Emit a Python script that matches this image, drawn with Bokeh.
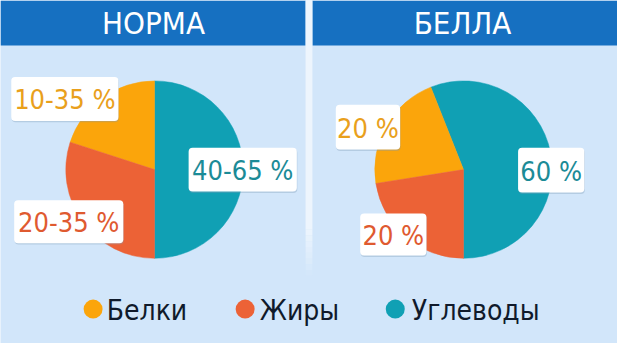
import numpy as np
from bokeh.plotting import figure
from bokeh.models import Range1d, BoxAnnotation, ColumnDataSource
from bokeh.core.properties import value
from bokeh.embed import file_html
from bokeh.resources import INLINE

# ---------------- data ----------------
panel_titles = ["НОРМА", "БЕЛЛА"]
categories = ["Белки", "Жиры", "Углеводы"]
norma_values = [20, 30, 50]          # slice shares
bella_values = [21.5, 22.5, 56]
norma_labels = ["10-35 %", "20-35 %", "40-65 %"]
bella_labels = ["20 %", "20 %", "60 %"]

# ---------------- style ----------------
BG = "#d2e6fa"
HEADER = "#1670c1"
SEP = "#edf5fd"
fill_colors = ["#fba50b", "#ec6236", "#10a0b4"]
text_colors = ["#e9a01c", "#df5a30", "#1b8b97"]
LEGEND_TEXT = "#101a2b"
FONT = value("DejaVu Sans Condensed")

H = 359
def Y(y):
    return H - y

p = figure(width=617, height=343, x_range=Range1d(0, 633), y_range=Range1d(0, 359),
           output_backend="svg", toolbar_location=None, min_border=0)
p.axis.visible = False
p.grid.visible = False
p.outline_line_color = None
p.background_fill_color = BG
p.border_fill_color = BG

# headers
p.quad(left=[0, 320], right=[313, 633], top=[Y(0), Y(0)], bottom=[Y(47), Y(47)],
       fill_color=HEADER, line_color=None)
# separator, fading towards the bottom
p.quad(left=[313], right=[320], top=[Y(0)], bottom=[Y(240)], fill_color=SEP, line_color=None)
for i, a in enumerate(np.linspace(0.9, 0.1, 8)):
    p.quad(left=[313], right=[320], top=[Y(240 + i * 6)], bottom=[Y(246 + i * 6)],
           fill_color=SEP, fill_alpha=float(a), line_color=None)

# titles
p.text(x=[157, 474], y=[Y(24), Y(24)], text=panel_titles, text_font=FONT,
       text_font_size="31px", text_color="white", text_align="center",
       text_baseline="middle")

# pies
def pie(cx, cy, r, vals):
    vals = np.array(vals, dtype=float)
    order = [2, 0, 1]  # carbs, proteins, fats going anticlockwise from the bottom
    shares = vals[order] / vals.sum() * 2 * np.pi
    ends = -np.pi / 2 + np.cumsum(shares)
    starts = ends - shares
    src = ColumnDataSource(dict(start=starts, end=ends,
                                color=[fill_colors[i] for i in order]))
    p.wedge(x=cx, y=cy, radius=r, start_angle="start", end_angle="end",
            fill_color="color", line_color="color", line_width=0.5, source=src)

pie(158, Y(177), 91, norma_values)
pie(475, Y(177), 91, bella_values)

# label boxes
boxes = [
    ((11, 121, 80, 126), norma_labels[0], text_colors[0]),
    ((14, 126, 209, 254), norma_labels[1], text_colors[1]),
    ((193, 304, 154, 200), norma_labels[2], text_colors[2]),
    ((344, 410, 109, 156), bella_labels[0], text_colors[0]),
    ((369, 437, 223, 267), bella_labels[1], text_colors[1]),
    ((531, 599, 154, 201), bella_labels[2], text_colors[2]),
]
for (l, r, t, b), txt, col in boxes:
    p.add_layout(BoxAnnotation(left=l + 0.5, right=r + 0.5, top=Y(t + 1.5), bottom=Y(b + 1.5),
                               fill_color="#7f9bb5", fill_alpha=0.35, line_color=None,
                               border_radius=4))
    p.add_layout(BoxAnnotation(left=l, right=r, top=Y(t), bottom=Y(b),
                               fill_color="white", fill_alpha=1.0, line_color=None,
                               border_radius=4))
    tr = p.text(x=[(l + r) / 2], y=[Y((t + b) / 2 + 1)], text=[txt], text_font=FONT,
                text_font_size="27px", text_color=col, text_align="center",
                text_baseline="middle")
    tr.level = "overlay"

# legend
leg_dot_x = [95, 251, 405]
leg_txt_x = [109, 266, 422]
p.scatter(x=leg_dot_x, y=[Y(323)] * 3, size=19, fill_color=fill_colors, line_color=None)
p.text(x=leg_txt_x, y=[Y(324)] * 3, text=categories, text_font=FONT,
       text_font_size="28px", text_color=LEGEND_TEXT, text_align="left",
       text_baseline="middle")

open("out.html", "w").write(file_html(p, INLINE))
